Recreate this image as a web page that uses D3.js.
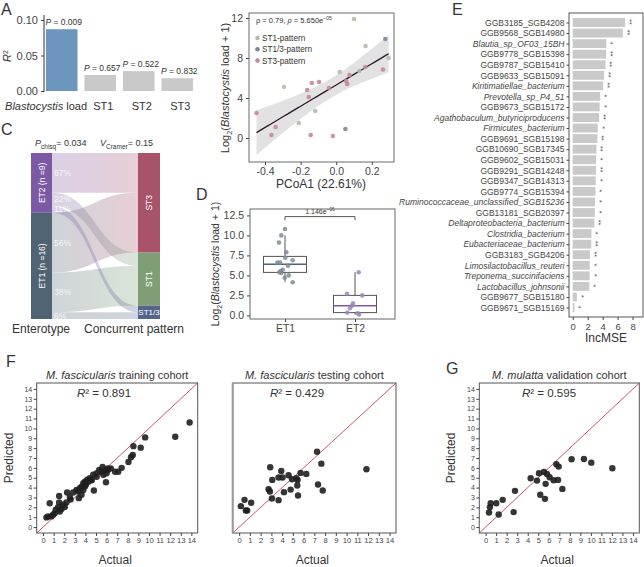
<!DOCTYPE html>
<html>
<head>
<meta charset="utf-8">
<script src="https://cdn.jsdelivr.net/npm/d3@7"></script>
<style>
  body { margin: 0; background: #fff; }
  svg { font-family: "Liberation Sans", Arial, sans-serif; }
</style>
</head>
<body>
<svg id="fig" width="644" height="567"></svg>
<script>
// ---- A: variance explained ----
const aLabels = ["Blastocystis load", "ST1", "ST2", "ST3"];
const aR2 = [0.087, 0.0225, 0.028, 0.018];
const aP = ["0.009", "0.657", "0.522", "0.832"];

// ---- B: PCoA1 vs load ----
const bPatterns = ["ST1-pattern", "ST1/3-pattern", "ST3-pattern"];
const bX = [0.10, 0.165, 0.295, 0.13, 0.02, -0.293, -0.118, -0.21,
  0.276, 0.052,
  0.263, 0.163, 0.075, 0.056, 0.062, -0.04, -0.096, -0.137, -0.163, -0.154, -0.448, -0.34, -0.364, -0.143, -0.019];
const bY = [11.9, 9.2, 8.0, 6.7, 6.6, 5.1, 2.7, 1.5,
  9.9, 0.9,
  6.85, 7.1, 6.3, 5.7, 5.4, 5.0, 5.6, 5.5, 4.8, 4.1, 2.5, 1.1, 0.3, 0.3, 0.2];
const bGroup = [0, 0, 0, 0, 0, 0, 0, 0, 1, 1, 2, 2, 2, 2, 2, 2, 2, 2, 2, 2, 2, 2, 2, 2, 2];

// ---- C: alluvial ----
const etNames = ["ET2", "ET1"];
const etN = [9, 16];
const stNames = ["ST3", "ST1", "ST1/3"];
const flowCounts = [[6, 2, 1], [9, 6, 1]];
const flowPct = [["67%", "22%", "11%"], ["56%", "38%", "6%"]];

// ---- D: load by enterotype ----
const dET1 = [10.8, 10.0, 9.1, 7.9, 7.2, 6.6, 6.6, 6.9, 6.2, 5.55, 5.7, 5.4, 5.3, 5.0, 4.7, 4.15];
const dET1jit = [0, -0.053, -0.086, 0.019, 0.004, -0.11, -0.071, 0.11, 0.043, -0.061, -0.033, -0.081, -0.053, 0.053, -0.004, 0.11];
const dET2 = [5.4, 2.7, 2.5, 1.5, 1.2, 0.9, 0.35, 0.27, 0.1];
const dET2jit = [0.053, -0.114, 0.104, -0.029, -0.043, -0.071, -0.11, 0.039, 0.057];

// ---- E: random forest importance ----
const eTaxa = ["GGB3185_SGB4208", "GGB9568_SGB14980", "Blautia_sp_OF03_15BH", "GGB9778_SGB15398",
  "GGB9787_SGB15410", "GGB9633_SGB15091", "Kiritimatiellae_bacterium", "Prevotella_sp_P4_51",
  "GGB9673_SGB15172", "Agathobaculum_butyriciproducens", "Firmicutes_bacterium", "GGB9691_SGB15198",
  "GGB10690_SGB17345", "GGB9602_SGB15031", "GGB9291_SGB14248", "GGB9347_SGB14313",
  "GGB9774_SGB15394", "Ruminococcaceae_unclassified_SGB15236", "GGB13181_SGB20397",
  "Deltaproteobacteria_bacterium", "Clostridia_bacterium", "Eubacteriaceae_bacterium",
  "GGB3183_SGB4206", "Limosilactobacillus_reuteri", "Treponema_succinifaciens",
  "Lactobacillus_johnsonii", "GGB9677_SGB15180", "GGB9671_SGB15169"];
const eIncMSE = [7.0, 6.7, 4.5, 4.47, 4.38, 4.2, 4.07, 3.67, 3.6, 3.53, 3.35, 3.3, 3.17, 3.13,
  3.12, 3.08, 3.04, 2.98, 2.96, 2.9, 2.5, 2.48, 2.3, 2.28, 2.26, 2.22, 0.55, 0.23];
const eSig = ["**", "**", "*", "**", "**", "**", "**", "*", "*", "**", "*", "**", "**", "*",
  "**", "*", "*", "*", "*", "**", "*", "**", "**", "*", "*", "*", "*", "*"];

// ---- F/G: predicted vs actual ----
const trainActual = [13.84, 12.48, 9.64, 9.22, 8.53, 8.47, 8.3, 8.06, 7.42, 7.1, 6.8, 6.4, 6.16, 6.0, 5.94,
  5.62, 5.53, 5.3, 5.06, 4.74, 4.42, 4.17, 3.95, 3.8, 3.63, 3.48, 3.8, 4.8, 3.38, 3.63, 2.84, 2.27, 2.53,
  2.2, 2.05, 1.52, 1.52, 1.42, 1.2, 1.58, 1.1, 0.79, 0.63, 0.32, 0.47, 4.04, 4.27, 5.06, 5.69, 3.16, 3.95,
  4.49, 1.74, 1.9, 0.95, 5.8, 6.1, 4.6, 3.3, 2.6];
const trainPred = [10.6, 9.16, 9.09, 8.05, 8.2, 7.3, 7.07, 6.6, 6.0, 5.6, 5.6, 5.95, 5.8, 5.45, 4.55,
  6.1, 5.6, 5.8, 5.45, 5.3, 4.95, 4.8, 4.6, 4.45, 4.1, 3.95, 3.77, 3.7, 2.93, 3.27, 3.5, 3.5, 3.03,
  2.49, 2.02, 3.16, 2.49, 2.02, 1.75, 1.58, 1.41, 1.08, 2.42, 0.98, 1.08, 4.28, 4.6, 5.1, 5.3, 3.77, 4.1,
  4.8, 1.82, 2.26, 1.25, 5.75, 5.95, 4.75, 3.6, 2.8];
const testActual = [7.25, 7.65, 2.89, 3.92, 4.6, 5.72, 6.25, 3.08, 3.67, 4.04, 4.92, 5.32, 5.44, 11.85,
  7.34, 7.78, 5.41, 2.74, 2.86, 4.79, 4.17, 5.48, 3.05, 3.67, 0.5, 1.12, 0.16, 0.62, 0.75];
const testPred = [7.64, 6.43, 6.06, 5.69, 5.25, 5.49, 5.39, 4.78, 5.02, 5.02, 4.85, 4.95, 4.78, 5.86,
  4.31, 3.7, 4.21, 3.84, 3.6, 3.8, 3.54, 3.2, 2.9, 2.73, 2.76, 2.46, 2.12, 1.68, 1.68];
const valActual = [12.04, 10.04, 9.34, 8.17, 6.72, 6.94, 5.54, 5.07, 5.83, 6.08, 6.46, 6.88, 4.28, 4.88,
  5.7, 7.29, 2.79, 5.19, 5.64, 1.62, 1.01, 0.48, 0.41, 0.32, 1.24, 2.66];
const valPred = [5.96, 6.53, 6.9, 6.87, 6.36, 6.13, 5.59, 5.45, 5.39, 5.05, 4.75, 4.78, 4.95, 4.71,
  4.38, 3.87, 3.67, 3.27, 2.86, 2.76, 2.42, 2.42, 2.02, 1.48, 1.28, 1.52];
const fTicks = d3.range(0, 15);

const svg = d3.select("#fig");
const ink = "#333";
const tickInk = "#454545";

function styleAxis(g, size) {
  g.attr("font-family", null).attr("font-size", size);
  g.select(".domain").remove();
  g.selectAll(".tick line").attr("stroke", "#444");
  g.selectAll(".tick text").attr("fill", tickInk);
  return g;
}

function frame(x0, y0, x1, y1, color) {
  svg.append("rect")
    .attr("x", x0).attr("y", y0)
    .attr("width", x1 - x0).attr("height", y1 - y0)
    .attr("fill", "none").attr("stroke", color || "#555").attr("stroke-width", 1);
}

// parts: {t, it, dy, fs}
function rich(sel, parts) {
  let shift = 0;
  parts.forEach((p) => {
    const t = sel.append("tspan").text(p.t);
    const s = p.dy || 0;
    if (s !== shift) { t.attr("dy", s - shift); shift = s; }
    if (p.it) t.attr("font-style", "italic");
    if (p.fs) t.attr("font-size", p.fs);
  });
  return sel;
}

function panelLabel(t, x, y) {
  svg.append("text").attr("x", x).attr("y", y)
    .attr("font-size", 16).attr("fill", ink).text(t);
}

// ================= A =================
panelLabel("A", 1, 15);
const xA = d3.scaleBand().domain(aLabels).range([44, 195]).paddingInner(0.18).paddingOuter(0.05);
const yA = d3.scaleLinear().domain([0, 0.1]).range([91, 20]);

svg.append("g").selectAll("rect").data(aLabels).join("rect")
  .attr("x", (d) => xA(d))
  .attr("width", xA.bandwidth())
  .attr("y", (d, i) => yA(aR2[i]))
  .attr("height", (d, i) => yA(0) - yA(aR2[i]))
  .attr("fill", (d, i) => (i === 0 ? "#6c96bd" : "#c9c9c9"));

aLabels.forEach((d, i) => {
  const t = svg.append("text")
    .attr("x", xA(d) + xA.bandwidth() / 2 + 2)
    .attr("y", yA(aR2[i]) - 4)
    .attr("text-anchor", "middle")
    .attr("font-size", 8.5).attr("fill", ink);
  rich(t, [{ t: "P", it: true }, { t: " = " + aP[i] }]);
});

const axA = svg.append("g").attr("transform", "translate(44,0)")
  .call(d3.axisLeft(yA).tickValues([0, 0.05, 0.1]).tickFormat(d3.format(".2f")).tickSize(3));
styleAxis(axA, 11);
svg.append("line").attr("x1", 44).attr("x2", 44).attr("y1", 92).attr("y2", 15)
  .attr("stroke", ink).attr("stroke-width", 1);

const aLab1 = svg.append("text").attr("x", 87).attr("y", 110)
  .attr("text-anchor", "end").attr("font-size", 11).attr("fill", ink);
rich(aLab1, [{ t: "Blastocystis", it: true }, { t: " load" }]);
aLabels.slice(1).forEach((d) => {
  svg.append("text").attr("x", xA(d) + xA.bandwidth() / 2 + 3).attr("y", 110)
    .attr("text-anchor", "middle").attr("font-size", 11).attr("fill", ink).text(d);
});
const aY = svg.append("text").attr("transform", "translate(11,56) rotate(-90)")
  .attr("text-anchor", "middle").attr("font-size", 11).attr("fill", ink);
rich(aY, [{ t: "R", it: true }, { t: "2", dy: -3.5, fs: 7 }]);

// ================= B =================
const xB = d3.scaleLinear().domain([-0.49, 0.325]).range([249, 394]);
const yB = d3.scaleLinear().domain([-2.4, 12.5]).range([162, 13]);
const bColors = ["#b3bdab", "#7b8898", "#c48898"];

svg.append("defs").append("clipPath").attr("id", "clipB")
  .append("rect").attr("x", 249).attr("y", 13).attr("width", 145).attr("height", 149);

const nB = bX.length;
const mx = d3.mean(bX), my = d3.mean(bY);
const sxx = d3.sum(bX, (x) => (x - mx) ** 2);
const sxy = d3.sum(bX.map((x, i) => (x - mx) * (bY[i] - my)));
const slope = sxy / sxx, icpt = my - slope * mx;
const sRes = Math.sqrt(d3.sum(bX.map((x, i) => (bY[i] - icpt - slope * x) ** 2)) / (nB - 2));
const tq = 2.069;
const xMin = d3.min(bX), xMax = d3.max(bX);
const fitGrid = d3.range(81).map((k) => {
  const x = xMin + (k * (xMax - xMin)) / 80;
  const se = sRes * Math.sqrt(1 / nB + (x - mx) ** 2 / sxx);
  const f = icpt + slope * x;
  return { x, f, lo: f - tq * se, hi: f + tq * se };
});

const gB = svg.append("g").attr("clip-path", "url(#clipB)");
gB.append("path").datum(fitGrid)
  .attr("d", d3.area().x((d) => xB(d.x)).y0((d) => yB(d.lo)).y1((d) => yB(d.hi)))
  .attr("fill", "#d6d6d6").attr("opacity", 0.7);
gB.append("path").datum(fitGrid)
  .attr("d", d3.line().x((d) => xB(d.x)).y((d) => yB(d.f)))
  .attr("fill", "none").attr("stroke", "#2b1a2b").attr("stroke-width", 1.3);
gB.selectAll("circle").data(bX).join("circle")
  .attr("cx", (d) => xB(d)).attr("cy", (d, i) => yB(bY[i])).attr("r", 2.3)
  .attr("fill", (d, i) => bColors[bGroup[i]]).attr("opacity", 0.9);

frame(249, 13, 394, 162, "#6a6a6a");
const axBy = svg.append("g").attr("transform", "translate(249,0)")
  .call(d3.axisLeft(yB).tickValues([0, 4, 8, 12]).tickSize(3));
styleAxis(axBy, 10.5);
const axBx = svg.append("g").attr("transform", "translate(0,162)")
  .call(d3.axisBottom(xB).tickValues([-0.4, -0.2, 0, 0.2]).tickFormat((d) => d.toFixed(1)).tickSize(3));
styleAxis(axBx, 10.5);

const bNote = svg.append("text").attr("x", 256).attr("y", 23).attr("font-size", 7.5).attr("fill", ink);
rich(bNote, [{ t: "\u03c1 = 0.79, " }, { t: "p", it: true }, { t: " = 5.650e" }, { t: "\u221205", dy: -3, fs: 5 }]);
bPatterns.forEach((p, i) => {
  const y = 38 + i * 11.3;
  svg.append("circle").attr("cx", 257.5).attr("cy", y).attr("r", 2.3).attr("fill", bColors[i]);
  svg.append("text").attr("x", 262).attr("y", y + 3).attr("font-size", 8.2).attr("fill", ink).text(p);
});
svg.append("text").attr("x", 321).attr("y", 188).attr("text-anchor", "middle")
  .attr("font-size", 12).attr("fill", ink).text("PCoA1 (22.61%)");
const bYl = svg.append("text").attr("transform", "translate(229,88) rotate(-90)")
  .attr("text-anchor", "middle").attr("font-size", 11).attr("fill", ink);
rich(bYl, [{ t: "Log" }, { t: "2", dy: 3, fs: 7.5 }, { t: "(" }, { t: "Blastocystis", it: true }, { t: " load + 1)" }]);

// ================= C =================
panelLabel("C", 1, 135);
const yC = d3.scaleLinear().domain([0, d3.sum(etN)]).range([153, 319]);
const cL = [31, 52], cR = [138, 160];
const etColors = ["#7b59a5", "#4f6373"];
const stColors = ["#a9536a", "#7e9f76", "#55658a"];

let acc = 0;
const etPos = etN.map((n) => { const p = { y0: acc, y1: acc + n }; acc += n; return p; });
const stN = stNames.map((s, j) => d3.sum(flowCounts, (r) => r[j]));
acc = 0;
const stPos = stN.map((n) => { const p = { y0: acc, y1: acc + n }; acc += n; return p; });

const flows = [];
etNames.forEach((e, i) => stNames.forEach((s, j) => flows.push({ i, j, n: flowCounts[i][j] })));
const lAcc = etPos.map((p) => p.y0);
flows.forEach((f) => { f.l0 = lAcc[f.i]; lAcc[f.i] += f.n; });
const rAcc = stPos.map((p) => p.y0);
stNames.forEach((s, j) => flows.filter((f) => f.j === j).forEach((f) => { f.r0 = rAcc[j]; rAcc[j] += f.n; }));

const defs = svg.select("defs");
flows.forEach((f, k) => {
  const gr = defs.append("linearGradient").attr("id", "fl" + k)
    .attr("gradientUnits", "userSpaceOnUse")
    .attr("x1", cL[1]).attr("x2", cR[0]).attr("y1", 0).attr("y2", 0);
  gr.append("stop").attr("offset", "0%").attr("stop-color", etColors[f.i]);
  gr.append("stop").attr("offset", "100%").attr("stop-color", stColors[f.j]);
});

function flowPath(f) {
  const x0 = cL[1], x1 = cR[0], xm = (x0 + x1) / 2;
  const a0 = yC(f.l0), a1 = yC(f.l0 + f.n), b0 = yC(f.r0), b1 = yC(f.r0 + f.n);
  return `M${x0},${a0}C${xm},${a0} ${xm},${b0} ${x1},${b0}L${x1},${b1}C${xm},${b1} ${xm},${a1} ${x0},${a1}Z`;
}
svg.append("g").selectAll("path").data(flows.slice().reverse()).join("path")
  .attr("d", flowPath)
  .attr("fill", (f) => `url(#fl${flows.indexOf(f)})`)
  .attr("opacity", 0.28);

svg.append("g").selectAll("rect").data(etPos).join("rect")
  .attr("x", cL[0]).attr("width", cL[1] - cL[0])
  .attr("y", (d) => yC(d.y0)).attr("height", (d) => yC(d.y1) - yC(d.y0))
  .attr("fill", (d, i) => etColors[i]);
svg.append("g").selectAll("rect").data(stPos).join("rect")
  .attr("x", cR[0]).attr("width", cR[1] - cR[0])
  .attr("y", (d) => yC(d.y0)).attr("height", (d) => yC(d.y1) - yC(d.y0))
  .attr("fill", (d, i) => stColors[i]);

etPos.forEach((p, i) => {
  const cy = (yC(p.y0) + yC(p.y1)) / 2;
  svg.append("text").attr("transform", `translate(${(cL[0] + cL[1]) / 2 + 3},${cy}) rotate(-90)`)
    .attr("text-anchor", "middle").attr("font-size", 8.5).attr("fill", "#fff")
    .text(`${etNames[i]} (n =${etN[i]})`);
});
stPos.forEach((p, j) => {
  const cy = (yC(p.y0) + yC(p.y1)) / 2;
  const cx = (cR[0] + cR[1]) / 2;
  if (stNames[j] === "ST1/3") {
    svg.append("text").attr("x", cx).attr("y", cy + 3).attr("text-anchor", "middle")
      .attr("font-size", 8).attr("fill", "#fff").text(stNames[j]);
  } else {
    svg.append("text").attr("transform", `translate(${cx + 3},${cy}) rotate(-90)`)
      .attr("text-anchor", "middle").attr("font-size", 8.5).attr("fill", "#fff").text(stNames[j]);
  }
});
flows.forEach((f) => {
  svg.append("text").attr("x", 54).attr("y", (yC(f.l0) + yC(f.l0 + f.n)) / 2 + 3)
    .attr("font-size", 8.5).attr("fill", "#fff").attr("opacity", 0.8)
    .text(flowPct[f.i][f.j]);
});

const cP = svg.append("text").attr("x", 35).attr("y", 146).attr("font-size", 9).attr("fill", ink);
rich(cP, [{ t: "P", it: true }, { t: "chisq", dy: 2.5, fs: 6.5 }, { t: "= 0.034" }]);
const cV = svg.append("text").attr("x", 100).attr("y", 146).attr("font-size", 9).attr("fill", ink);
rich(cV, [{ t: "V", it: true }, { t: "Cramer", dy: 2.5, fs: 6.5 }, { t: "= 0.15" }]);
svg.append("text").attr("x", 41).attr("y", 333).attr("text-anchor", "middle")
  .attr("font-size", 12).attr("fill", ink).text("Enterotype");
svg.append("text").attr("x", 134).attr("y", 333).attr("text-anchor", "middle")
  .attr("font-size", 12).attr("fill", ink).text("Concurrent pattern");

// ================= D =================
panelLabel("D", 196, 200);
const xD = d3.scalePoint().domain(["ET1", "ET2"]).range([285, 355]);
const yD = d3.scaleLinear().domain([-0.45, 13.3]).range([319, 209]);
const dStep = xD.step();
const dSets = [
  { key: "ET1", v: dET1, jit: dET1jit, pt: "#7d8b97", med: "#4f6373" },
  { key: "ET2", v: dET2, jit: dET2jit, pt: "#9b87bb", med: "#7b59a5" },
];

function boxStats(v) {
  const s = v.slice().sort(d3.ascending);
  const q1 = d3.quantile(s, 0.25), med = d3.quantile(s, 0.5), q3 = d3.quantile(s, 0.75);
  const iqr = q3 - q1;
  return {
    q1, med, q3,
    lo: d3.min(s.filter((x) => x >= q1 - 1.5 * iqr)),
    hi: d3.max(s.filter((x) => x <= q3 + 1.5 * iqr)),
  };
}

dSets.forEach((ds) => {
  const st = boxStats(ds.v);
  const cx = xD(ds.key), hw = 21.5;
  svg.append("line").attr("x1", cx).attr("x2", cx).attr("y1", yD(st.hi)).attr("y2", yD(st.q3))
    .attr("stroke", "#555");
  svg.append("line").attr("x1", cx).attr("x2", cx).attr("y1", yD(st.q1)).attr("y2", yD(st.lo))
    .attr("stroke", "#555");
  svg.append("rect").attr("x", cx - hw).attr("width", hw * 2)
    .attr("y", yD(st.q3)).attr("height", yD(st.q1) - yD(st.q3))
    .attr("fill", "#fff").attr("stroke", "#555");
  svg.append("line").attr("x1", cx - hw).attr("x2", cx + hw).attr("y1", yD(st.med)).attr("y2", yD(st.med))
    .attr("stroke", ds.med).attr("stroke-width", 1.5);
  svg.append("g").selectAll("circle").data(ds.v).join("circle")
    .attr("cx", (d, i) => cx + ds.jit[i] * dStep)
    .attr("cy", (d) => yD(d)).attr("r", 2.3)
    .attr("fill", ds.pt).attr("opacity", 0.85);
});

svg.append("path")
  .attr("d", `M${xD("ET1")},${yD(11.9)}V${yD(12.35)}H${xD("ET2")}V${yD(11.9)}`)
  .attr("fill", "none").attr("stroke", "#444").attr("stroke-width", 0.9);
const dNote = svg.append("text").attr("x", (xD("ET1") + xD("ET2")) / 2).attr("y", yD(12.7))
  .attr("text-anchor", "middle").attr("font-size", 7).attr("fill", ink);
rich(dNote, [{ t: "1.146e" }, { t: "\u221206", dy: -2.5, fs: 4.8 }]);

frame(250, 209, 395, 319, "#666");
const axDy = svg.append("g").attr("transform", "translate(250,0)")
  .call(d3.axisLeft(yD).tickValues([0, 2.5, 5, 7.5, 10, 12.5]).tickFormat(d3.format(".1f")).tickSize(3));
styleAxis(axDy, 10.5);
const axDx = svg.append("g").attr("transform", "translate(0,319)")
  .call(d3.axisBottom(xD).tickSize(3));
styleAxis(axDx, 10.5);
const dYl = svg.append("text").attr("transform", "translate(219,264) rotate(-90)")
  .attr("text-anchor", "middle").attr("font-size", 10.5).attr("fill", ink);
rich(dYl, [{ t: "Log" }, { t: "2", dy: 3, fs: 7 }, { t: "(" }, { t: "Blastocystis", it: true }, { t: " load + 1)" }]);

// ================= E =================
panelLabel("E", 452, 15);
const yE = d3.scalePoint().domain(eTaxa).range([13, 317]).padding(0.9);
const xE = d3.scaleLinear().domain([-0.5, 9.4]).range([569, 643]);
const barH = yE.step() * 0.84;

svg.append("g").selectAll("rect").data(eTaxa).join("rect")
  .attr("x", xE(0))
  .attr("y", (d) => yE(d) - barH / 2)
  .attr("width", (d, i) => xE(eIncMSE[i]) - xE(0))
  .attr("height", barH)
  .attr("fill", "#c9c9c9");
svg.append("g").selectAll("text").data(eTaxa).join("text")
  .attr("transform", (d, i) => `translate(${xE(eIncMSE[i]) + 4.5},${yE(d) - 0.5}) rotate(90)`)
  .attr("text-anchor", "middle").attr("dominant-baseline", "central")
  .attr("font-size", 7).attr("fill", "#444")
  .text((d, i) => eSig[i]);

frame(569, 13, 643, 317, "#555");
const axEy = svg.append("g").attr("transform", "translate(569,0)")
  .call(d3.axisLeft(yE).tickSize(2.5).tickPadding(2));
styleAxis(axEy, 8.5);
axEy.selectAll(".tick text").attr("font-style", (d) => (d.startsWith("GGB") ? null : "italic"));
const axEx = svg.append("g").attr("transform", "translate(0,317)")
  .call(d3.axisBottom(xE).tickValues([0, 2, 4, 6, 8]).tickSize(3));
styleAxis(axEx, 9.5);
svg.append("text").attr("x", 606).attr("y", 342).attr("text-anchor", "middle")
  .attr("font-size", 12).attr("fill", ink).text("IncMSE");

// ================= F / G =================
panelLabel("F", 6, 367);
panelLabel("G", 446, 374);
const yF = d3.scaleLinear().domain([-0.6, 14.6]).range([533, 383]);

function predPanel(cfg) {
  const x = d3.scaleLinear().domain([-0.6, 14.6]).range([cfg.x0, cfg.x1]);
  svg.append("line")
    .attr("x1", x(-0.6)).attr("y1", yF(-0.6)).attr("x2", x(14.6)).attr("y2", yF(14.6))
    .attr("stroke", "#c65a63").attr("stroke-width", 1);
  svg.append("g").selectAll("circle").data(cfg.actual).join("circle")
    .attr("cx", (d) => x(d)).attr("cy", (d, i) => yF(cfg.pred[i])).attr("r", 3.2)
    .attr("fill", "#1f1f1f").attr("opacity", 0.9);
  frame(cfg.x0, 383, cfg.x1, 533, "#555");
  if (cfg.leftBar) {
    svg.append("line").attr("x1", cfg.x0).attr("x2", cfg.x0).attr("y1", 383).attr("y2", 533)
      .attr("stroke", "#999").attr("stroke-width", 2);
  }
  const axx = svg.append("g").attr("transform", "translate(0,533)")
    .call(d3.axisBottom(x).tickValues(fTicks).tickSize(3).tickPadding(2));
  styleAxis(axx, 7.6);
  if (cfg.yAxis) {
    const axy = svg.append("g").attr("transform", `translate(${cfg.x0},0)`)
      .call(d3.axisLeft(yF).tickValues(fTicks).tickSize(3).tickPadding(1.5));
    styleAxis(axy, 7);
    svg.append("text").attr("transform", `translate(${cfg.x0 - 24},458) rotate(-90)`)
      .attr("text-anchor", "middle").attr("font-size", 12).attr("fill", ink).text("Predicted");
  }
  const cx = (cfg.x0 + cfg.x1) / 2;
  const tt = svg.append("text").attr("x", cx).attr("y", 379).attr("text-anchor", "middle")
    .attr("font-size", 11).attr("fill", ink);
  rich(tt, [{ t: cfg.species, it: true }, { t: " " + cfg.cohort }]);
  const r2 = svg.append("text").attr("x", cfg.r2x).attr("y", 397).attr("font-size", 11.5).attr("fill", ink);
  rich(r2, [{ t: "R", it: true }, { t: "\u00b2 = " + cfg.r2 }]);
  svg.append("text").attr("x", cx - 2).attr("y", 563.5).attr("text-anchor", "middle")
    .attr("font-size", 12).attr("fill", ink).text("Actual");
}

predPanel({ x0: 36.7, x1: 197.7, actual: trainActual, pred: trainPred, yAxis: true,
  species: "M. fascicularis", cohort: "training cohort", r2: "0.891", r2x: 77 });
predPanel({ x0: 232.7, x1: 396, actual: testActual, pred: testPred, yAxis: false, leftBar: true,
  species: "M. fascicularis", cohort: "testing cohort", r2: "0.429", r2x: 270 });
predPanel({ x0: 479.3, x1: 639.3, actual: valActual, pred: valPred, yAxis: true,
  species: "M. mulatta", cohort: "validation cohort", r2: "0.595", r2x: 522 });
</script>
</body>
</html>
